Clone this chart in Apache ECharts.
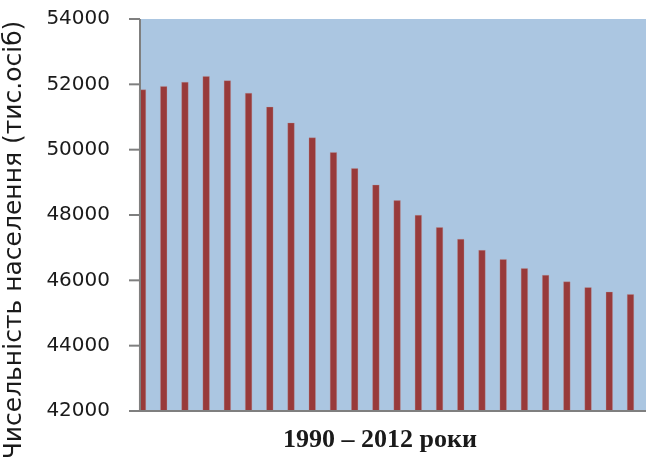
<!DOCTYPE html>
<html>
<head>
<meta charset="utf-8">
<script src="https://cdn.jsdelivr.net/npm/echarts@6/dist/echarts.min.js"></script>
<style>
html,body{margin:0;padding:0;background:#fff;}
#chart{width:646px;height:466px;}
</style>
</head>
<body>
<div id="chart"></div>
<script>
var years = ['1990','1991','1992','1993','1994','1995','1996','1997','1998','1999','2000','2001','2002','2003','2004','2005','2006','2007','2008','2009','2010','2011','2012','2013'];
var population = [51840, 51945, 52070, 52250, 52120, 51735, 51310, 50825, 50370, 49922, 49432, 48925, 48448, 47998, 47624, 47265, 46925, 46646, 46371, 46162, 45962, 45786, 45650, 45575];
var yTicks = [42000, 44000, 46000, 48000, 50000, 52000, 54000];
var yTitle = 'Чисельність населення (тис.осіб)';
var xTitle = '1990 – 2012 роки';

var GRID_TOP = 19, GRID_H = 392;
var yMin = yTicks[0], yMax = yTicks[yTicks.length-1];

var graphics = [
  {type:'rect', z:-10, shape:{x:141, y:GRID_TOP, width:505, height:GRID_H}, style:{fill:'#abc6e1'}},
  {type:'line', z:10, shape:{x1:129, y1:GRID_TOP+GRID_H, x2:646, y2:GRID_TOP+GRID_H}, style:{stroke:'#7f7f7f', lineWidth:2}},
  {type:'line', z:10, shape:{x1:140, y1:GRID_TOP, x2:140, y2:GRID_TOP+GRID_H}, style:{stroke:'#7f7f7f', lineWidth:2}},
  {type:'text', z:10, x:14, y:240, rotation:Math.PI/2,
    style:{text:yTitle, font:'25px "DejaVu Sans"', fill:'#1a1a1a', align:'center', verticalAlign:'middle'}},
  {type:'text', z:10, x:380, y:440,
    style:{text:xTitle, font:'bold 26px "Liberation Serif"', fill:'#1a1a1a', align:'center', verticalAlign:'middle'}}
];
yTicks.forEach(function(v){
  var py = GRID_TOP + (yMax - v) / (yMax - yMin) * GRID_H;
  graphics.push({type:'rect', z:20, shape:{x:129, y:py-1, width:11, height:2}, style:{fill:'#7f7f7f'}});
});

var chart = echarts.init(document.getElementById('chart'), null, {renderer:'canvas'});
chart.setOption({
  animation: false,
  grid: {left: 142.5, right: 15.5, top: GRID_TOP, height: GRID_H, containLabel: false},
  graphic: graphics,
  xAxis: {
    type:'category', data: years, boundaryGap:false,
    axisLine:{show:false}, axisTick:{show:false}, axisLabel:{show:false}, splitLine:{show:false}
  },
  yAxis: {
    type:'value', min: yMin, max: yMax, interval: 2000, offset: 2.5,
    axisLine:{show:false},
    axisTick:{show:false},
    axisLabel:{margin:30, fontFamily:'DejaVu Sans', fontSize:20, color:'#1a1a1a',
      formatter:function(v){ return String(v); }},
    splitLine:{show:false}
  },
  series: [{
    type:'bar', data: population, barWidth:7,
    itemStyle:{color:'#983a3a', borderColor:'rgba(190,150,150,0.6)', borderWidth:0.5}
  }]
});
</script>
</body>
</html>
